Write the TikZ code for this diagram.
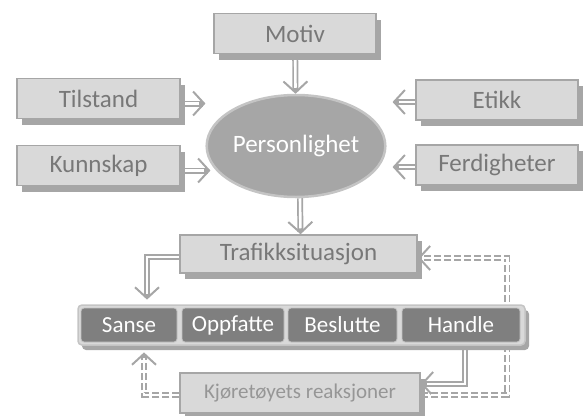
\documentclass[tikz,border=0pt]{standalone}
\usepackage{fontspec}
\setmainfont{Carlito}
\usetikzlibrary{shapes.geometric,shadows,arrows.meta,backgrounds}

\definecolor{boxfill}{RGB}{217,217,217}
\definecolor{boxline}{RGB}{166,166,166}
\definecolor{boxtext}{RGB}{120,120,120}
\definecolor{celldark}{RGB}{127,127,127}
\definecolor{ovalrim}{RGB}{196,196,196}
\definecolor{paletext}{RGB}{150,150,150}

\tikzset{
  box/.style={draw=boxline, line width=1.5pt, fill=boxfill, text=boxtext,
    inner sep=0pt, minimum height=40pt, font=\fontsize{25}{25}\selectfont,
    drop shadow={shadow xshift=5pt, shadow yshift=-6pt, fill=boxline, opacity=1}},
  cell/.style={draw=ovalrim, line width=0.8pt, fill=celldark, text=white,
    rounded corners=3pt, inner sep=0pt, minimum height=34pt,
    font=\fontsize{23}{23}\selectfont},
  link/.style={draw=boxline, line width=6pt, shorten >=#1,
    -{Straight Barb[length=11pt,width=24pt,line width=2pt]},
    postaction={draw=white, line width=2.6pt, -, shorten >=#1+6pt}},
  link/.default=0pt,
  dlink/.style={link=#1, dash pattern=on 7pt off 3pt},
  dlink/.default=0pt,
}

\begin{document}
\begin{tikzpicture}[x=1pt,y=-1pt]
        \useasboundingbox (0,0) rectangle (585,415);

        % outer boxes
        \node[box, minimum width=162pt] (motiv) at (295,33.5) {Motiv};
        \node[box, minimum width=163pt] (tilstand) at (98.5,98.5) {Tilstand};
        \node[box, minimum width=163pt] (kunnskap) at (98.5,165.5) {Kunnskap};
        \node[box, minimum width=162pt] (etikk) at (497,100) {Etikk};
        \node[box, minimum width=162pt] (ferdigheter) at (497,165) {Ferdigheter};

        \node[ellipse, draw=ovalrim, line width=2.5pt, fill=boxline, text=white,
          minimum width=163pt, minimum height=102pt, inner sep=0pt,
          font=\fontsize{25}{25}\selectfont] (person) at (296,146) {Personlighet};

        \node[box, minimum width=237pt, minimum height=38pt] (trafikk) at (298.5,254)
        {Trafikksituasjon};

        % the loop
        \node[draw=ovalrim, line width=1.5pt, fill=boxfill, rounded corners=4pt,
          minimum width=447pt, minimum height=40pt, inner sep=0pt,
          drop shadow={shadow xshift=4pt, shadow yshift=-5pt, fill=boxline, opacity=1}]
          (loop) at (301.5,325) {};
        \node[cell, minimum width=96pt] (sanse) at (129,325) {Sanse};
        \node[cell, minimum width=102pt] (oppfatte) at (233,325) {Oppfatte};
        \node[cell, minimum width=109pt] (beslutte) at (342.5,325) {Beslutte};
        \node[cell, minimum width=118pt] (handle) at (461,325) {Handle};

        \node[box, minimum width=240pt, text=paletext,
          font=\fontsize{21}{21}\selectfont] (reaksjon) at (300,393)
        {Kjøretøyets reaksjoner};

        \begin{scope}[on background layer]
        \draw[link] (motiv) -- (person);
        \draw[link] ([yshift=-5pt]tilstand.east)
          -- ([yshift=-5pt]tilstand.east -| person.west);
        \draw[link] ([yshift=-5pt]kunnskap.east)
          -- ([yshift=-5pt,xshift=5pt]kunnskap.east -| person.west);
        \draw[link] ([yshift=-2pt]etikk.west)
          -- ([yshift=-2pt,xshift=6pt]etikk.west -| person.east);
        \draw[link] ([yshift=-2pt]ferdigheter.west)
          -- ([yshift=-2pt,xshift=6pt]ferdigheter.west -| person.east);
        \draw[link] ([xshift=4pt]person.south) -- ([xshift=2pt]trafikk.north);

        \draw[link=8pt] ([yshift=-3pt]trafikk.west)
          -| ([xshift=18pt]sanse.north);
        \draw[link] ([xshift=4pt]handle.south) |- ([yshift=9pt]reaksjon.east);
        \draw[dlink=10pt] ([yshift=-2pt]reaksjon.west)
          -| ([xshift=15pt]sanse.south);
        \draw[dlink] ([yshift=-2pt]reaksjon.east) -| ([xshift=-13pt]handle.east)
          |- ([yshift=-4pt]trafikk.east);
        \end{scope}
      \end{tikzpicture}
\end{document}
